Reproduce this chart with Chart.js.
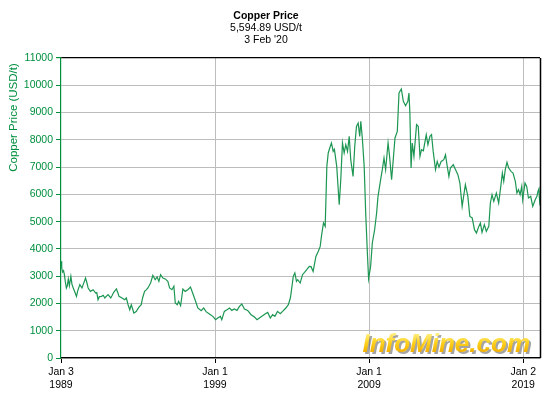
<!DOCTYPE html>
<html><head><meta charset="utf-8">
<script src="https://cdn.jsdelivr.net/npm/chart.js@4.4.1/dist/chart.umd.min.js"></script>
<style>html,body{margin:0;padding:0;background:#fff}canvas{display:block}</style>
</head><body>
<canvas id="c" width="552" height="404"></canvas>
<script>
const titleLines = ["Copper Price", "5,594.89 USD/t", "3 Feb '20"];
const yAxisTitle = "Copper Price (USD/t)";
const watermark = "InfoMine.com";

const dates = [
"1989-01-03","1989-01-20","1989-02-10","1989-03-05","1989-03-25","1989-04-15","1989-05-10","1989-06-01","1989-06-25","1989-07-20",
"1989-08-25","1989-09-20","1989-10-20","1989-11-20","1990-01-05","1990-02-01","1990-03-25","1990-05-15","1990-06-15","1990-08-07",
"1990-09-10","1990-10-08","1990-12-01","1991-02-03","1991-04-05","1991-05-01","1991-05-30","1991-07-01","1991-08-20","1991-10-01",
"1991-11-06","1992-01-22","1992-03-27","1992-05-01","1992-06-01","1992-08-07","1992-09-10","1992-10-08","1992-12-20","1993-02-20",
"1993-04-01","1993-05-12","1993-06-20","1993-07-27","1993-09-27","1993-11-20","1994-01-20","1994-03-20","1994-04-20","1994-06-07",
"1994-07-15","1994-08-25","1994-10-27","1994-12-20","1995-02-13","1995-04-01","1995-05-12","1995-06-21","1995-08-15","1995-10-08",
"1995-12-10","1996-01-20","1996-03-15","1996-05-01","1996-06-03","1996-07-20","1996-08-22","1996-10-08","1996-12-01","1997-01-25",
"1997-03-27","1997-05-30","1997-07-20","1997-09-15","1997-11-20","1998-02-07","1998-04-08","1998-06-03","1998-08-22","1998-11-10",
"1999-01-15","1999-03-07","1999-05-08","1999-06-10","1999-08-10","1999-10-12","1999-12-10","2000-02-03","2000-04-01","2000-06-05",
"2000-08-03","2000-09-27","2000-11-28","2001-02-13","2001-05-05","2001-07-24","2001-09-24","2001-11-17","2002-02-03","2002-04-10",
"2002-06-03","2002-08-04","2002-09-27","2002-11-20","2003-01-22","2003-03-27","2003-05-22","2003-08-07","2003-10-05","2003-11-22",
"2003-12-20","2004-01-30","2004-03-07","2004-04-15","2004-05-15","2004-07-12","2004-09-06","2004-12-15","2005-02-13","2005-03-27",
"2005-05-15","2005-07-20","2005-09-13","2005-10-30","2005-11-28","2006-01-15","2006-02-25","2006-04-05","2006-05-08","2006-06-13",
"2006-07-23","2006-09-02","2006-10-01","2006-11-25","2007-01-23","2007-03-01","2007-04-10","2007-05-20","2007-06-28","2007-08-08",
"2007-09-17","2007-10-23","2007-12-17","2008-01-26","2008-03-07","2008-04-16","2008-05-23","2008-06-18","2008-07-27","2008-09-06",
"2008-10-12","2008-11-21","2008-12-20","2009-02-06","2009-03-18","2009-05-12","2009-06-28","2009-07-31","2009-08-25","2009-10-01",
"2009-11-10","2009-12-20","2010-01-27","2010-03-26","2010-05-01","2010-06-18","2010-07-27","2010-09-06","2010-10-31","2010-12-10",
"2011-02-03","2011-03-23","2011-05-15","2011-07-08","2011-08-03","2011-08-25","2011-09-22","2011-10-20","2011-11-29","2012-01-30",
"2012-03-10","2012-04-20","2012-05-26","2012-07-10","2012-09-16","2012-10-26","2012-12-13","2013-01-20","2013-02-28","2013-04-24",
"2013-06-03","2013-07-15","2013-09-06","2013-11-06","2013-12-16","2014-01-27","2014-03-07","2014-04-12","2014-06-18","2014-08-12",
"2014-10-06","2014-11-22","2015-01-15","2015-04-01","2015-05-30","2015-07-16","2015-09-10","2015-11-03","2015-12-20","2016-02-14",
"2016-03-22","2016-04-30","2016-06-24","2016-08-10","2016-10-08","2016-11-14","2016-12-24","2017-02-03","2017-04-05","2017-05-30",
"2017-07-24","2017-08-25","2017-09-27","2017-11-02","2017-12-13","2018-01-22","2018-03-18","2018-05-05","2018-06-28","2018-08-05",
"2018-09-12","2018-10-20","2018-11-28","2018-12-20","2019-02-13","2019-03-25","2019-05-05","2019-06-28","2019-08-15","2019-10-12",
"2019-11-22","2019-12-17","2020-01-08","2020-01-20","2020-02-03"
];
const prices = [
3550,3300,3150,3200,3050,2800,2567,2650,2900,2650,
2993,2700,2567,2450,2260,2450,2690,2567,2700,2933,
2750,2567,2443,2505,2383,2400,2138,2250,2260,2300,
2200,2321,2200,2300,2400,2530,2400,2260,2200,2138,
2200,1954,1771,1954,1649,1700,1857,1954,2200,2443,
2500,2567,2750,3029,2871,2970,2810,3054,2933,2900,
2810,2567,2505,2630,2017,1954,2077,1917,2530,2443,
2505,2604,2383,2138,1833,1734,1833,1700,1613,1526,
1404,1467,1526,1404,1709,1771,1833,1746,1800,1746,
1892,1980,1797,1746,1588,1503,1404,1467,1551,1624,
1672,1467,1588,1526,1709,1624,1709,1833,1954,2200,
2505,2993,3117,2810,2871,2750,3054,3238,3359,3350,
3176,3726,3909,4092,4459,4950,4826,7026,7517,7700,
7884,7576,7650,7026,5621,6538,7884,7517,7822,7576,
8126,7272,6659,7761,8493,8617,8126,8676,8005,7026,
5317,3850,2908,3359,4217,4705,5317,5926,6171,6538,
6905,7334,6905,7884,7393,6538,7272,8067,8310,9717,
9864,9410,9252,9410,9717,8984,6967,7884,7393,8555,
8493,7393,7638,7600,8188,7822,8126,8188,7576,6905,
7209,7000,7209,7272,7455,7026,6659,6967,7088,6905,
6722,6417,5559,6355,5926,5193,5134,4705,4584,4826,
4950,4606,4888,4643,4826,5684,5988,5743,6050,5684,
6355,6784,6476,6905,7173,6967,6843,6784,6476,6050,
6171,5988,6293,5805,6417,6293,5867,5926,5559,5805,
5926,6110,6200,5867,5595
];

const xTickDates = ["1989-01-03", "1999-01-01", "2009-01-01", "2019-01-02"];
const xTickLabels = [["Jan 3", "1989"], ["Jan 1", "1999"], ["Jan 1", "2009"], ["Jan 2", "2019"]];
const yMin = 0, yMax = 11000, yStep = 1000;

function toYear(s) {
  const [y, m, d] = s.split('-').map(Number);
  const t = Date.UTC(y, m - 1, d), a = Date.UTC(y, 0, 1), b = Date.UTC(y + 1, 0, 1);
  return y + (t - a) / (b - a);
}
const points = dates.map((d, i) => ({ x: toYear(d), y: prices[i] }));

const FONT = '"Liberation Sans", Arial, Helvetica, sans-serif';
const GREEN = '#008f3f';
const LINE = '#1c9652';
const GRID = '#bdbdbd';

const decor = {
  id: 'decor',
  beforeDatasetsDraw(chart) {
    const { ctx, chartArea: ca } = chart;
    ctx.save();
    ctx.font = 'bold italic 26px ' + FONT;
    ctx.textAlign = 'right';
    ctx.textBaseline = 'alphabetic';
    const xR = ca.right - 10, yB = ca.bottom - 6;
    ctx.fillStyle = 'rgba(90,90,90,0.55)';
    ctx.fillText(watermark, xR + 2, yB + 2);
    const g = ctx.createLinearGradient(0, yB - 19, 0, yB);
    g.addColorStop(0, '#fff08a');
    g.addColorStop(0.5, '#ffd21f');
    g.addColorStop(1, '#f2b000');
    ctx.fillStyle = g;
    ctx.fillText(watermark, xR, yB);
    ctx.restore();
  },
  afterDraw(chart) {
    const { ctx, chartArea: ca } = chart;
    ctx.save();
    // right frame
    ctx.strokeStyle = '#000';
    ctx.lineWidth = 1.5;
    ctx.beginPath();
    ctx.moveTo(ca.right + 0.5, ca.top);
    ctx.lineTo(ca.right + 0.5, ca.bottom);
    ctx.stroke();
    // header
    ctx.fillStyle = '#000';
    ctx.textAlign = 'center';
    ctx.textBaseline = 'middle';
    ctx.font = 'bold 10.5px ' + FONT;
    ctx.fillText(titleLines[0], 266, 16);
    ctx.font = '10.5px ' + FONT;
    ctx.fillText(titleLines[1], 266, 28);
    ctx.fillText(titleLines[2], 266, 40.5);
    // y axis title
    ctx.translate(13.5, 117.5);
    ctx.rotate(-Math.PI / 2);
    ctx.fillStyle = GREEN;
    ctx.font = '11.5px ' + FONT;
    ctx.fillText(yAxisTitle, 0, 0);
    ctx.restore();
  }
};

new Chart(document.getElementById('c'), {
  type: 'line',
  data: {
    datasets: [{
      data: points,
      borderColor: LINE,
      borderWidth: 1.2,
      pointRadius: 0,
      tension: 0,
      fill: false
    }]
  },
  options: {
    responsive: false,
    animation: false,
    layout: { padding: { top: 58, right: 12, left: 0, bottom: 0 } },
    plugins: { legend: { display: false }, tooltip: { enabled: false }, title: { display: false } },
    scales: {
      x: {
        type: 'linear',
        min: toYear(xTickDates[0]),
        max: toYear(dates[dates.length - 1]),
        afterBuildTicks(scale) { scale.ticks = xTickDates.map(d => ({ value: toYear(d) })); },
        afterFit(scale) { scale.height = 46; },
        ticks: {
          autoSkip: false, maxRotation: 0, minRotation: 0, padding: 2,
          color: '#000',
          font: { family: FONT, size: 10.5, lineHeight: 1.27 },
          callback: (v, i) => xTickLabels[i]
        },
        grid: {
          color: (c) => (c.index === 0 ? 'rgba(0,0,0,0)' : GRID),
          tickColor: '#000', tickLength: 5, lineWidth: 1
        },
        border: { color: '#000', width: 1.2 }
      },
      y: {
        min: yMin, max: yMax,
        afterFit(scale) { scale.width = 61; },
        ticks: {
          stepSize: yStep, padding: 3, color: GREEN,
          font: { family: FONT, size: 10.5 },
          callback: (v) => String(v)
        },
        grid: {
          color: (c) => (c.tick && c.tick.value === yMax ? '#000' : GRID),
          lineWidth: (c) => (c.tick && c.tick.value === yMax ? 1.2 : 1),
          tickColor: GREEN, tickLength: 5
        },
        border: { color: GREEN, width: 1.2 }
      }
    }
  },
  plugins: [decor]
});
</script>
</body></html>
